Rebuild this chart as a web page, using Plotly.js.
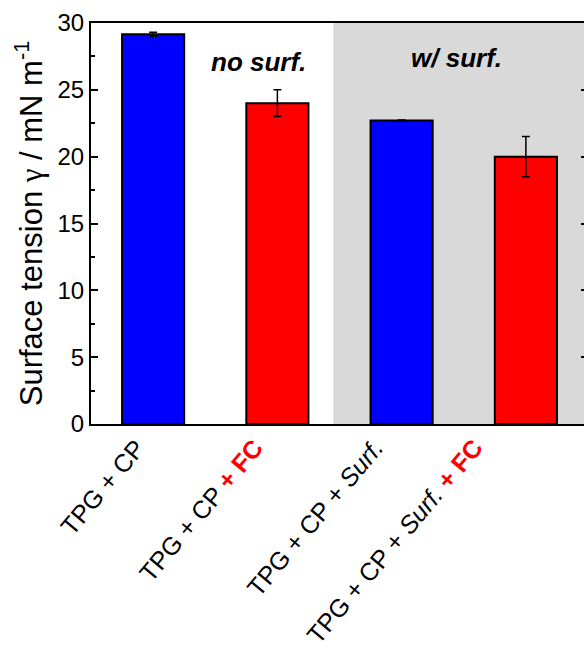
<!DOCTYPE html>
<html><head><meta charset="utf-8">
<script src="https://cdn.plot.ly/plotly-3.0.1.min.js"></script>
<style>html,body{margin:0;padding:0;overflow:hidden;background:#fff}#chart{width:592px;height:657px}</style>
</head><body><div id="chart"></div>
<script>
const categories = ["TPG + CP", "TPG + CP + FC", "TPG + CP + Surf.", "TPG + CP + Surf. + FC"];
const tickLabels = [
  "TPG + CP",
  "TPG + CP <span style='color:#ff0000'><b>+ FC</b></span>",
  "TPG + CP + <i>Surf.</i>",
  "TPG + CP + <i>Surf.</i> <span style='color:#ff0000'><b>+ FC</b></span>"
];
const tension = [29.15, 24.0, 22.7, 20.0];
const tensionErr = [0.15, 1.0, 0.05, 1.5];
const barColors = ["#0000ff", "#ff0000", "#0000ff", "#ff0000"];
const positions = [0, 1, 2, 3];
// horizontal pixel nudge of each rotated category label (styling only)
const labelShift = [0, -6, -11, -35];

const trace = {
  type: "bar",
  x: positions,
  y: tension,
  width: 0.5,
  marker: {color: barColors, line: {color: "#000", width: 2}},
  error_y: {type: "data", array: tensionErr, visible: true, color: "#000", thickness: 1.5, width: 4},
  hoverinfo: "skip"
};

const labelAnnotations = positions.map((p, i) => ({
  xref: "x", yref: "y", x: p, y: 0, text: tickLabels[i], showarrow: false,
  textangle: -50, xanchor: "right", yanchor: "top", xshift: labelShift[i], yshift: -7,
  font: {size: 25, color: "#000"}
}));

const layout = {
  width: 592, height: 657,
  margin: {l: 91, r: 4, t: 23, b: 233},
  paper_bgcolor: "#fff", plot_bgcolor: "#fff",
  showlegend: false,
  font: {family: "Liberation Sans, Arial, sans-serif", color: "#000"},
  xaxis: {
    range: [-0.5, 3.5], tickmode: "array", tickvals: positions, showticklabels: false,
    ticks: "", showgrid: false, zeroline: false,
    showline: true, linecolor: "#000", linewidth: 2, mirror: true
  },
  yaxis: {
    range: [0, 30], dtick: 5, tick0: 0, ticks: "inside", ticklen: 7, tickwidth: 2, tickcolor: "#000",
    tickfont: {size: 24}, showgrid: false, zeroline: false,
    showline: true, linecolor: "#000", linewidth: 2, mirror: "ticks",
    minor: {dtick: 2.5, ticks: "inside", ticklen: 4, tickwidth: 2, tickcolor: "#000", showgrid: false},
    title: {text: "Surface tension <span style='font-family:Liberation Serif'>γ</span> / mN m<sup>-1</sup>", font: {size: 31}, standoff: 6}
  },
  shapes: [{
    type: "rect", xref: "x", yref: "y", x0: 1.45, x1: 3.5, y0: 0, y1: 30,
    fillcolor: "#d9d9d9", line: {width: 0}, layer: "below"
  }],
  annotations: [
    {xref: "x", yref: "y", x: 0.85, y: 27.1, text: "<b><i>no surf.</i></b>", showarrow: false, font: {size: 26}},
    {xref: "x", yref: "y", x: 2.44, y: 27.4, text: "<b><i>w/ surf.</i></b>", showarrow: false, font: {size: 26}}
  ].concat(labelAnnotations)
};

Plotly.newPlot("chart", [trace], layout, {displayModeBar: false, staticPlot: true});
</script></body></html>
